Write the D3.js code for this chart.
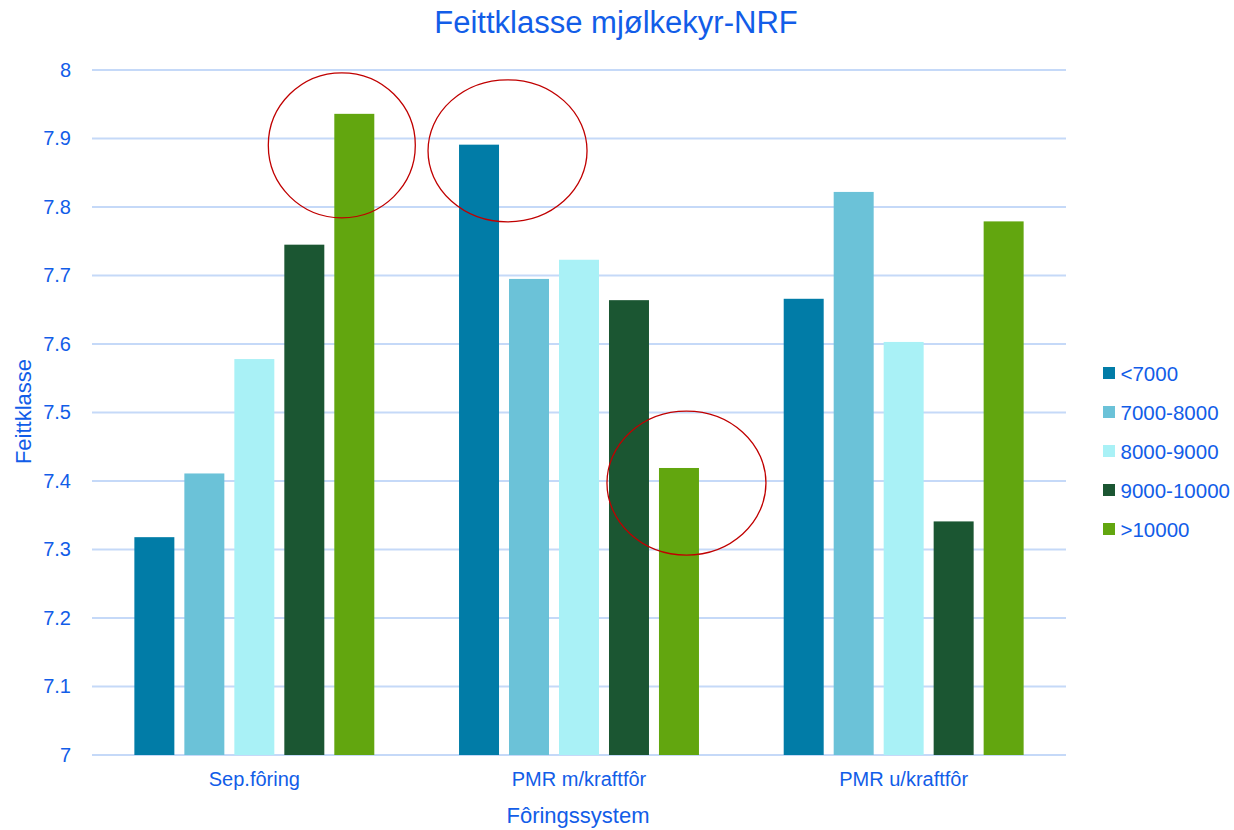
<!DOCTYPE html>
<html>
<head>
<meta charset="utf-8">
<script src="https://cdn.jsdelivr.net/npm/d3@7"></script>
<style>
html,body{margin:0;padding:0;background:#fff;}
text{font-family:"Liberation Sans",Arial,sans-serif;}
</style>
</head>
<body>
<svg id="chart" width="1234" height="830"></svg>
<script>
const categories = ["Sep.fôring", "PMR m/kraftfôr", "PMR u/kraftfôr"];
const seriesNames = ["<7000", "7000-8000", "8000-9000", "9000-10000", ">10000"];
const s_lt7000 = [7.318, 7.891, 7.666];
const s_7000_8000 = [7.411, 7.695, 7.822];
const s_8000_9000 = [7.578, 7.723, 7.603];
const s_9000_10000 = [7.745, 7.664, 7.341];
const s_gt10000 = [7.936, 7.419, 7.779];
const yTicks = [7, 7.1, 7.2, 7.3, 7.4, 7.5, 7.6, 7.7, 7.8, 7.9, 8];
const colors = ["#017ca7", "#6bc2d8", "#a9f1f6", "#1b5632", "#62a60f"];
const chartTitle = "Feittklasse mjølkekyr-NRF";
const yTitle = "Feittklasse";
const xTitle = "Fôringssystem";
// red annotation ellipses: anchored on a category/series, centre value
const annotations = [
  {cat: "Sep.fôring", series: ">10000", value: 7.89, dx: -12.5, rx: 73.5, ry: 72.5},
  {cat: "PMR m/kraftfôr", series: "<7000", value: 7.882, dx: 28.5, rx: 79.5, ry: 71},
  {cat: "PMR m/kraftfôr", series: ">10000", value: 7.397, dx: 7.5, rx: 79.5, ry: 72}
];

const seriesValues = [s_lt7000, s_7000_8000, s_8000_9000, s_9000_10000, s_gt10000];
const data = categories.map((c, i) => ({cat: c, vals: seriesNames.map((s, j) => ({s, v: seriesValues[j][i], j}))}));

const textColor = "#125de8";
const FONT = "'Liberation Sans',Arial,sans-serif";
const svg = d3.select("#chart");
const mLeft = 92, mRight = 1066, mTop = 70, mBottom = 755;

const x0 = d3.scaleBand().domain(categories).range([mLeft, mRight]).paddingInner(0.261).paddingOuter(0.1305);
const x1 = d3.scaleBand().domain(seriesNames).range([0, x0.bandwidth()]).paddingInner(0.2).paddingOuter(0);
const y = d3.scaleLinear().domain([7, 8]).range([mBottom, mTop]);

// gridlines
svg.append("g").selectAll("line").data(yTicks).join("line")
  .attr("x1", mLeft).attr("x2", mRight)
  .attr("y1", d => y(d)).attr("y2", d => y(d))
  .attr("stroke", "#c5d9f8").attr("stroke-width", 2);

// y tick labels via axis
const yAxis = svg.append("g").attr("transform", `translate(${mLeft},0)`)
  .call(d3.axisLeft(y).tickValues(yTicks).tickFormat(d => String(+d.toFixed(1))).tickSize(0).tickPadding(21));
yAxis.select(".domain").remove();
yAxis.selectAll("text").attr("fill", textColor).style("font-size", "20px").style("font-family", FONT);

// bars
const groups = svg.append("g").selectAll("g").data(data).join("g")
  .attr("transform", d => `translate(${x0(d.cat)},0)`);
groups.selectAll("rect").data(d => d.vals).join("rect")
  .attr("x", d => x1(d.s)).attr("width", x1.bandwidth())
  .attr("y", d => y(d.v)).attr("height", d => y(7) - y(d.v))
  .attr("fill", d => colors[d.j]);

// x axis
const xAxis = svg.append("g").attr("transform", `translate(0,${mBottom})`)
  .call(d3.axisBottom(x0).tickSize(0).tickPadding(16.5));
xAxis.select(".domain").remove();
xAxis.selectAll("text").attr("fill", textColor).style("font-size", "20px").style("font-family", FONT);

// annotations
svg.append("g").selectAll("ellipse").data(annotations).join("ellipse")
  .attr("cx", d => x0(d.cat) + x1(d.series) + x1.bandwidth() / 2 + d.dx)
  .attr("cy", d => y(d.value))
  .attr("rx", d => d.rx).attr("ry", d => d.ry)
  .attr("fill", "none").attr("stroke", "#c00000").attr("stroke-width", 1.3);

// title
svg.append("text").attr("x", 616).attr("y", 33).attr("text-anchor", "middle")
  .attr("fill", textColor).style("font-size", "31px").text(chartTitle);
// axis titles
svg.append("text").attr("transform", `translate(31,411.5) rotate(-90)`).attr("text-anchor", "middle")
  .attr("fill", textColor).style("font-size", "22px").text(yTitle);
svg.append("text").attr("x", 578).attr("y", 823).attr("text-anchor", "middle")
  .attr("fill", textColor).style("font-size", "22px").text(xTitle);

// legend
const leg = svg.append("g").selectAll("g").data(seriesNames).join("g")
  .attr("transform", (d, i) => `translate(1103,${373 + i * 39})`);
leg.append("rect").attr("x", 0).attr("y", -6).attr("width", 12).attr("height", 12).attr("fill", (d, i) => colors[i]);
leg.append("text").attr("x", 17.5).attr("y", 8).attr("fill", textColor).style("font-size", "20.5px").text(d => d);
</script>
</body>
</html>
